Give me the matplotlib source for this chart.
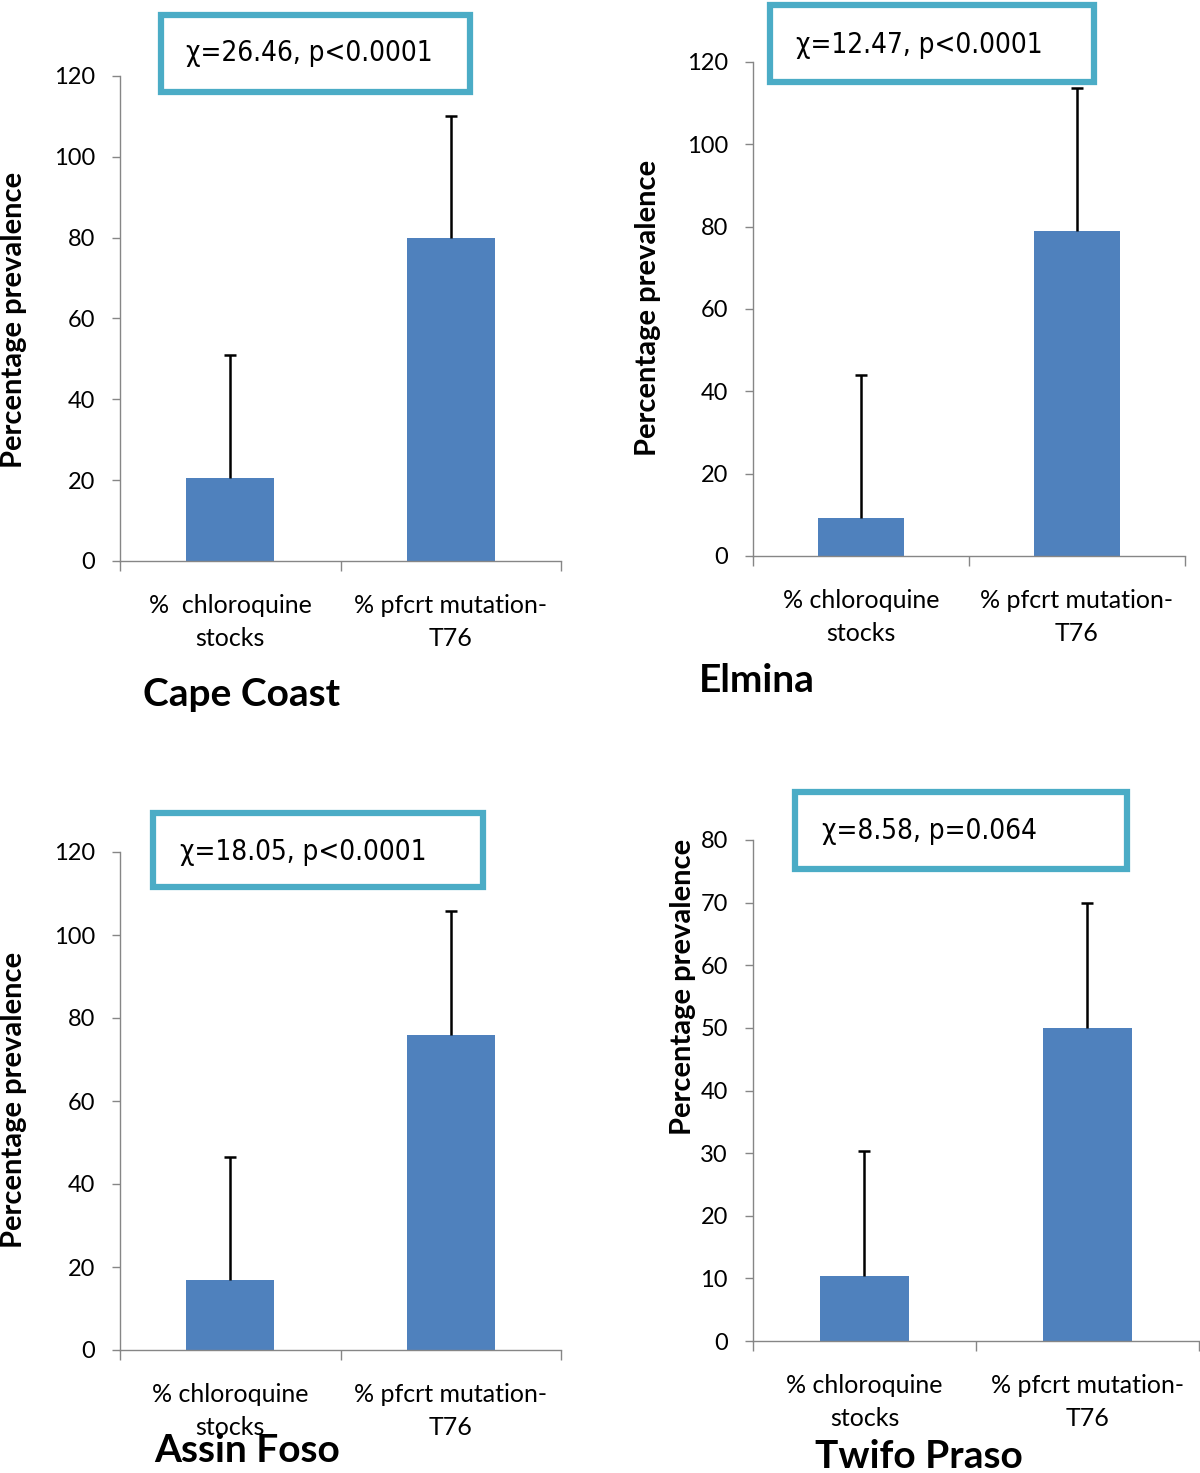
import matplotlib
matplotlib.use("Agg")
import matplotlib.pyplot as plt
from matplotlib.patches import Rectangle

plt.rcParams['font.family'] = ['Lato', 'DejaVu Sans']

categories = ["% chloroquine\nstocks", "% pfcrt mutation-\nT76"]
categories_cc = ["%  chloroquine\nstocks", "% pfcrt mutation-\nT76"]

cape_values = [20.5, 80.0]
cape_err = [30.5, 30.0]
elmina_values = [9.2, 79.0]
elmina_err = [34.8, 34.8]
assin_values = [16.9, 75.8]
assin_err = [29.5, 30.0]
twifo_values = [10.4, 50.0]
twifo_err = [20.0, 20.0]

titles = ["Cape Coast", "Elmina", "Assin Foso", "Twifo Praso"]
stats = ["χ=26.46, p<0.0001", "χ=12.47, p<0.0001", "χ=18.05, p<0.0001", "χ=8.58, p=0.064"]
ymaxes = [120, 120, 120, 80]
ysteps = [20, 20, 20, 10]

W, H = 1200, 1473
fig = plt.figure(figsize=(W / 100, H / 100), dpi=100)

def fx(px):
    return px / W

def fy(py):
    return 1 - py / H

# layout (pixel positions)
panels = [
    dict(left=120, right=561, y0=561, ytop=76, vals=cape_values, err=cape_err, cats=categories_cc,
         box=(158, 12, 473, 95), stx=186, sty=53, title_xy=(242, 694), ylab_xy=(14, 320)),
    dict(left=753, right=1185, y0=556, ytop=62, vals=elmina_values, err=elmina_err, cats=categories,
         box=(767, 2, 1097, 85), stx=796, sty=45, title_xy=(757, 680), ylab_xy=(648, 308)),
    dict(left=120, right=561, y0=1350, ytop=852, vals=assin_values, err=assin_err, cats=categories,
         box=(150, 810, 486, 890), stx=180, sty=852, title_xy=(247, 1450), ylab_xy=(14, 1100)),
    dict(left=753, right=1199, y0=1341, ytop=840, vals=twifo_values, err=twifo_err, cats=categories,
         box=(792, 789, 1130, 872), stx=822, sty=831, title_xy=(919, 1456), ylab_xy=(683, 987)),
]

gray = "#868686"
for i, p in enumerate(panels):
    ax = fig.add_axes([fx(p['left']), fy(p['y0']), (p['right'] - p['left']) / W, (p['y0'] - p['ytop']) / H])
    x = [0, 1]
    ax.bar(x, p['vals'], width=0.4, color="#4F81BD", zorder=2)
    _, caps, _ = ax.errorbar(x, p['vals'], yerr=[[0, 0], p['err']], fmt='none', ecolor='black',
                             elinewidth=1.8, capsize=4, capthick=1.8, zorder=3, clip_on=False)
    # hide the lower caps (sitting on top of the bars)
    for c in caps:
        yd = list(c.get_ydata())
        if all(abs(a - b) < 1e-9 for a, b in zip(yd, p['vals'])):
            c.set_visible(False)
    ax.set_xlim(-0.5, 1.5)
    ax.set_ylim(0, ymaxes[i])
    ax.set_yticks(range(0, ymaxes[i] + 1, ysteps[i]))
    ax.set_xticks(x)
    ax.set_xticklabels(p['cats'], fontsize=18, linespacing=1.5)
    ax.set_xticks([-0.5, 0.5, 1.5], minor=True)
    ax.tick_params(axis='x', which='major', length=0, pad=24)
    ax.tick_params(axis='x', which='minor', length=7, width=1, color=gray, direction='out')
    ax.tick_params(axis='y', length=6, width=1, color=gray, direction='out', labelsize=17, pad=12)
    for s in ['top', 'right']:
        ax.spines[s].set_visible(False)
    for s in ['left', 'bottom']:
        ax.spines[s].set_color(gray)
        ax.spines[s].set_linewidth(1)
    ax.patch.set_alpha(0)

    # y label
    fig.text(fx(p['ylab_xy'][0]), fy(p['ylab_xy'][1]), "Percentage prevalence", rotation=90,
             fontsize=21, fontweight='bold', ha='center', va='center')
    # title
    fig.text(fx(p['title_xy'][0]), fy(p['title_xy'][1]), titles[i], fontsize=28,
             fontweight='bold', ha='center', va='center')
    # stats box
    bx0, by0, bx1, by1 = p['box']
    rect = Rectangle((fx(bx0 + 3), fy(by1 - 3)), (bx1 - bx0 - 6) / W, (by1 - by0 - 6) / H,
                     transform=fig.transFigure, facecolor='white', edgecolor='#4BACC6',
                     linewidth=4.5, zorder=10)
    fig.add_artist(rect)
    fig.text(fx(p['stx']), fy(p['sty']), stats[i], fontsize=20, ha='left', va='center',
             family='DejaVu Sans', fontstretch='condensed', zorder=11)

fig.savefig("out.png", dpi=100, facecolor='white')
